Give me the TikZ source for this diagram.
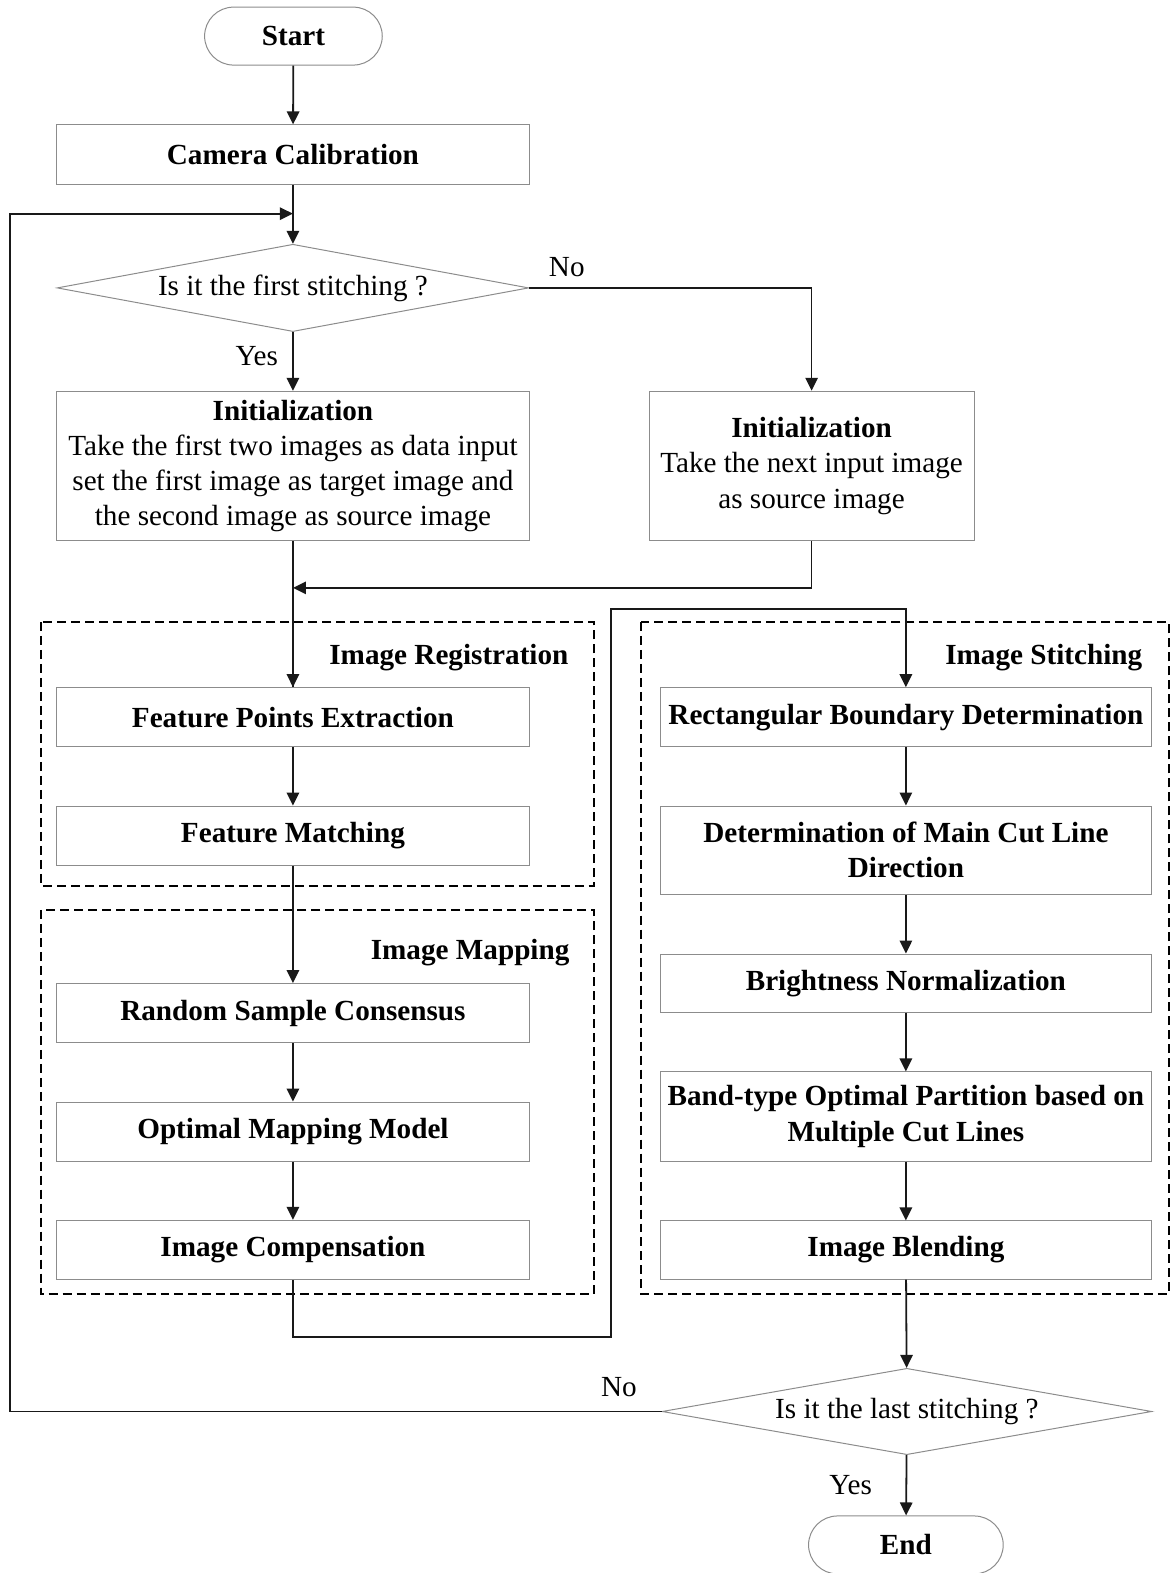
\documentclass[tikz,border=0pt]{standalone}
\usepackage{fontspec}
\setmainfont{Liberation Serif}
\usetikzlibrary{arrows.meta,shapes.geometric}
\newcommand\fcfont{\fontsize{14.6}{17.6}\selectfont}
\tikzset{
  fcbox/.style={rectangle, draw=black!45, line width=0.5pt, inner sep=0pt,
                minimum width=236.9pt, minimum height=29.6pt,
                font=\fcfont\bfseries, align=center},
  fcwide/.style={fcbox, minimum width=246pt},
  fcinit/.style={fcbox, minimum height=74.8pt, font=\fcfont},
  fcterm/.style={fcbox, rounded corners=14.5pt, minimum width=88.9pt, minimum height=29pt},
  fcdec/.style={diamond, draw=black!45, line width=0.5pt, inner sep=0pt,
                minimum width=236pt, minimum height=43.7pt, font=\fcfont},
  fcarr/.style={-{Triangle[length=6.5pt,width=6.2pt]}, line width=0.9pt, black!90},
  fcline/.style={line width=0.9pt, black!90},
  grpbox/.style={draw, line width=0.8pt, dash pattern=on 4.5pt off 2.5pt},
  grplbl/.style={anchor=east, inner sep=0pt, font=\fcfont\bfseries},
  yesno/.style={inner sep=0pt, font=\fcfont},
}
\begin{document}
\begin{tikzpicture}[x=0.502pt, y=-0.502pt]
  \useasboundingbox (0,0) rectangle (1168,1568);

  % groups
  \draw[grpbox] (41,620) rectangle (592,883);
  \draw[grpbox] (41,907) rectangle (592,1290);
  \draw[grpbox] (639,620) rectangle (1165,1290);
  \node[grplbl] (lblreg) at (567,656) {Image Registration};
  \node[grplbl] (lblmap) at (568,950) {Image Mapping};
  \node[grplbl] (lblsti) at (1139,656) {Image Stitching};

  % main column
  \node[fcterm] (start) at (292.5,36) {Start};
  \node[fcbox] (calib) at (292,154) {Camera Calibration};
  \node[fcdec] (first) at (292,287) {\makebox[0pt]{\raisebox{-1pt}{Is it the first stitching ?}}};
  \node[fcinit] (initL) at (292,464.5) {\textbf{Initialization}\\Take the first two images as data input\\set the first image as target image and\\the second image as source image};
  \node[fcinit, minimum width=162.6pt] (initR) at (809,464.5) {\textbf{Initialization}\\Take the next input image\\as source image};
  \node[fcbox] (fpe) at (292,715) {Feature Points Extraction};
  \node[fcbox] (fm) at (292,833) {Feature Matching};
  \node[fcbox] (rsc) at (292,1010) {Random Sample Consensus};
  \node[fcbox] (omm) at (292,1128) {Optimal Mapping Model};
  \node[fcbox] (comp) at (292,1246) {Image Compensation};

  % right column
  \node[fcwide] (rbd) at (903,715) {Rectangular Boundary Determination};
  \node[fcwide, minimum height=44.2pt] (dml) at (903,847.5) {Determination of Main Cut Line\\Direction};
  \node[fcwide, minimum height=29.1pt] (bright) at (903,980) {Brightness Normalization};
  \node[fcwide, minimum height=44.7pt] (band) at (903,1113) {Band-type Optimal Partition based on\\Multiple Cut Lines};
  \node[fcwide, minimum height=29.1pt] (blend) at (903,1246) {Image Blending};
  \node[fcdec, minimum width=245pt, minimum height=43.2pt] (last) at (904,1407) {\makebox[0pt]{\raisebox{-1pt}{Is it the last stitching ?}}};
  \node[fcterm, minimum width=97.4pt] (end) at (903,1540) {End};

  \coordinate (merge1) at (292,213);
  \coordinate (lft) at (10,213);
  \coordinate (merge2) at (292,586);
  \coordinate (bendA) at (609,1333);
  \coordinate (bendB) at (609,607);

  % connectors
  \draw[fcarr] (start) -- (calib);
  \draw[fcarr] (calib) -- (first);
  \draw[fcarr] (first.east) -| (initR.north);
  \draw[fcarr] (first) -- (initL);
  \draw[fcline] (initL) -- (fpe);
  \draw[fcarr] (initR.south) |- (merge2);
  \draw[fcarr] (merge2) -- (fpe);
  \draw[fcarr] (fpe) -- (fm);
  \draw[fcarr] (fm) -- (rsc);
  \draw[fcarr] (rsc) -- (omm);
  \draw[fcarr] (omm) -- (comp);
  \draw[fcarr] (comp.south) |- (bendA) -- (bendB) -| (rbd.north);
  \draw[fcarr] (rbd) -- (dml);
  \draw[fcarr] (dml) -- (bright);
  \draw[fcarr] (bright) -- (band);
  \draw[fcarr] (band) -- (blend);
  \draw[fcarr] (blend) -- (last);
  \draw[fcarr] (last) -- (end);
  \draw[fcarr] (last.west) -| (lft) -- (merge1);

  \node[yesno] (no1) at (565,266) {No};
  \node[yesno] (yes1) at (256,355) {Yes};
  \node[yesno] (no2) at (617,1383) {No};
  \node[yesno] (yes2) at (848,1480) {Yes};
\end{tikzpicture}
\end{document}
